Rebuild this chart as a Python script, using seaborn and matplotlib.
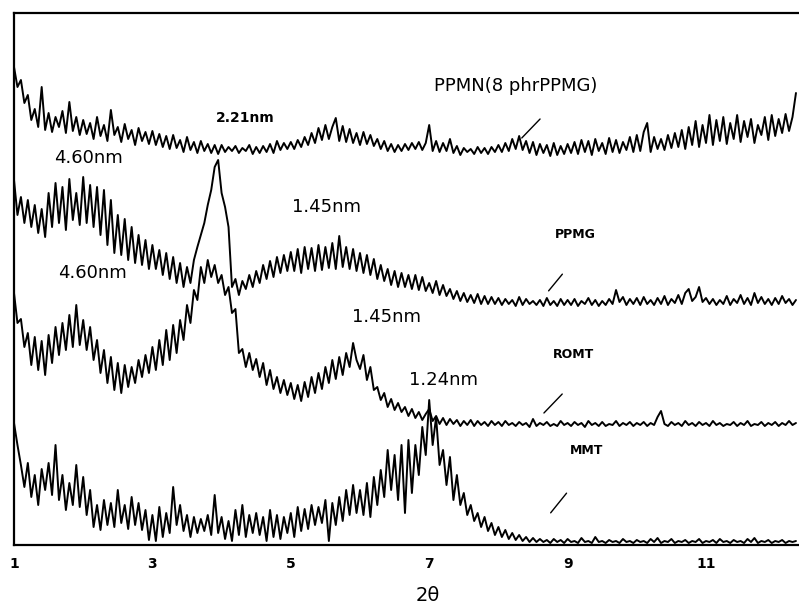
import numpy as np
import pandas as pd
import matplotlib
matplotlib.use("Agg")
import matplotlib.pyplot as plt
import seaborn as sns

# 2-theta sampling (1.00 .. 12.30, step 0.05)
theta = np.round(np.linspace(1.0, 12.3, 227), 2)

ppmn = [
    478, 458, 465, 442, 450, 425, 436, 418, 458, 415, 432, 413, 428, 418, 434, 412, 443, 414, 428, 410,
    425, 411, 422, 406, 428, 409, 420, 404, 435, 410, 418, 403, 421, 406, 415, 400, 417, 404, 413, 401,
    414, 400, 411, 398, 409, 396, 410, 397, 405, 393, 408, 395, 403, 392, 404, 394, 401, 392, 400, 391,
    400, 393, 398, 394, 399, 392, 397, 394, 400, 391, 398, 392, 399, 393, 401, 392, 404, 395, 402, 396,
    403, 396, 405, 398, 408, 400, 412, 402, 417, 405, 420, 406, 418, 427, 404, 419, 403, 416, 402, 412,
    400, 413, 401, 410, 399, 406, 396, 404, 394, 401, 393, 400, 394, 401, 395, 402, 396, 403, 395, 402,
    420, 394, 404, 393, 402, 394, 406, 392, 399, 390, 397, 393, 396, 391, 398, 392, 397, 391, 398, 393,
    400, 393, 402, 394, 406, 396, 409, 395, 404, 392, 403, 390, 401, 392, 400, 389, 402, 390, 399, 391,
    401, 392, 403, 391, 405, 393, 404, 390, 406, 394, 402, 391, 407, 393, 405, 392, 403, 395, 408, 393,
    410, 394, 413, 422, 393, 408, 396, 406, 395, 410, 397, 412, 398, 415, 396, 418, 400, 424, 398, 420,
    402, 430, 400, 425, 404, 428, 401, 422, 406, 430, 403, 424, 408, 426, 402, 420, 410, 428, 405, 430,
    409, 426, 412, 431, 414, 428, 452,
]

ppmg = [
    365, 330, 348, 322, 345, 318, 340, 312, 336, 308, 352, 318, 362, 322, 358, 315, 366, 325, 352, 320,
    368, 322, 360, 318, 358, 310, 355, 300, 345, 292, 330, 290, 326, 285, 318, 282, 310, 280, 305, 276,
    300, 276, 295, 270, 292, 266, 288, 262, 282, 258, 278, 262, 285, 298, 310, 322, 340, 355, 378, 385,
    352, 338, 318, 258, 266, 250, 264, 256, 270, 258, 274, 262, 280, 266, 284, 268, 288, 272, 290, 274,
    293, 274, 296, 272, 298, 276, 297, 274, 300, 275, 298, 277, 302, 276, 309, 278, 298, 276, 296, 274,
    292, 272, 290, 270, 286, 266, 280, 264, 276, 260, 274, 258, 272, 258, 270, 256, 270, 255, 268, 254,
    262, 252, 264, 250, 260, 249, 256, 246, 254, 244, 252, 243, 250, 242, 251, 241, 249, 241, 248, 241,
    247, 240, 246, 241, 245, 239, 248, 240, 246, 241, 244, 240, 245, 239, 247, 240, 244, 239, 246, 240,
    245, 240, 246, 239, 244, 241, 247, 240, 245, 239, 244, 240, 246, 241, 255, 243, 248, 240, 246, 241,
    247, 240, 248, 241, 245, 240, 247, 241, 249, 240, 246, 242, 250, 241, 252, 256, 244, 248, 258, 243,
    247, 241, 246, 240, 245, 241, 249, 240, 246, 242, 250, 241, 247, 240, 252, 242, 248, 241, 246, 240,
    247, 241, 249, 242, 246, 240, 245,
]

romt = [
    252, 222, 226, 198, 212, 180, 208, 175, 204, 170, 210, 182, 218, 190, 222, 195, 230, 198, 240, 200,
    225, 195, 218, 185, 205, 172, 195, 162, 188, 155, 182, 152, 180, 158, 178, 162, 185, 168, 190, 172,
    198, 175, 205, 180, 215, 185, 220, 192, 225, 205, 240, 222, 255, 245, 278, 262, 285, 268, 280, 262,
    270, 250, 258, 232, 236, 192, 196, 178, 192, 175, 186, 168, 182, 160, 175, 156, 168, 152, 165, 150,
    162, 146, 160, 144, 163, 148, 168, 152, 172, 156, 178, 162, 185, 166, 188, 170, 192, 178, 202, 185,
    176, 190, 165, 178, 155, 158, 145, 152, 138, 146, 135, 142, 133, 138, 129, 136, 127, 133, 125, 131,
    136, 124, 129, 121, 127, 120, 126, 121, 125, 119, 124, 120, 125, 119, 124, 120, 123, 119, 124, 120,
    123, 119, 124, 120, 122, 119, 123, 120, 122, 118, 126, 119, 122, 120, 123, 119, 121, 119, 124, 120,
    122, 119, 123, 120, 122, 118, 124, 120, 122, 119, 123, 119, 121, 120, 124, 119, 122, 120, 123, 119,
    122, 120, 123, 119, 122, 120, 128, 134, 121, 119, 123, 120, 122, 119, 124, 120, 122, 119, 123, 120,
    122, 119, 124, 120, 122, 119, 121, 120, 123, 119, 122, 120, 124, 119, 121, 120, 123, 119, 122, 120,
    123, 119, 122, 120, 124, 120, 122,
]

mmt = [
    122, 100, 80, 58, 82, 48, 70, 40, 76, 55, 82, 50, 100, 45, 70, 35, 62, 40, 80, 38,
    68, 30, 55, 18, 40, 15, 45, 20, 42, 18, 55, 22, 40, 16, 48, 20, 42, 15, 35, 5,
    30, 4, 38, 8, 32, 12, 58, 20, 40, 14, 30, 8, 28, 12, 26, 14, 30, 10, 50, 12,
    28, 6, 24, 4, 35, 10, 40, 8, 30, 12, 32, 10, 28, 4, 35, 8, 30, 6, 28, 12,
    32, 8, 38, 14, 36, 16, 40, 20, 38, 22, 45, 4, 42, 20, 48, 24, 55, 30, 60, 32,
    55, 30, 62, 28, 68, 40, 75, 48, 95, 55, 90, 45, 100, 32, 105, 52, 100, 70, 118, 90,
    145, 100, 128, 80, 95, 60, 88, 45, 70, 40, 52, 30, 40, 24, 32, 18, 28, 14, 22, 10,
    18, 8, 15, 6, 12, 5, 10, 4, 8, 3, 7, 3, 6, 3, 5, 2, 6, 3, 5, 2,
    6, 3, 4, 2, 7, 3, 4, 2, 8, 3, 4, 2, 5, 3, 4, 2, 6, 3, 4, 2,
    5, 3, 4, 2, 6, 3, 7, 2, 4, 3, 6, 2, 4, 3, 5, 2, 4, 3, 6, 2,
    4, 3, 5, 2, 6, 3, 4, 2, 5, 3, 4, 2, 6, 3, 7, 2, 4, 3, 5, 2,
    4, 3, 5, 2, 4, 3, 4,
]

series_names = ["PPMN(8 phrPPMG)", "PPMG", "ROMT", "MMT"]
tick_values = [1, 3, 5, 7, 9, 11]
tick_labels = ["1", "3", "5", "7", "9", "11"]

frames = []
for name, vals in zip(series_names, [ppmn, ppmg, romt, mmt]):
    frames.append(pd.DataFrame({"theta": theta, "intensity": vals, "sample": name}))
df = pd.concat(frames, ignore_index=True)

sns.set_style("white")
plt.rcParams["font.family"] = ["DejaVu Sans"]
plt.rcParams["text.color"] = "black"
plt.rcParams["xtick.color"] = "black"
plt.rcParams["axes.labelcolor"] = "black"

fig = plt.figure(figsize=(7.99, 6.14), dpi=100)
ax = fig.add_axes([14 / 799, 69 / 614, 785 / 799, 532 / 614])

sns.lineplot(data=df, x="theta", y="intensity", hue="sample", units="sample",
             estimator=None, sort=False, palette=["black"] * 4, linewidth=1.4,
             legend=False, ax=ax)

ax.set_xlim(1.0, 1 + 785 / 69.2)
ax.set_ylim(0, 532)
ax.set_yticks([])
ax.set_xticks(tick_values)
ax.set_xticklabels(tick_labels, fontsize=10, fontweight="bold", color="black")
ax.tick_params(axis="x", length=0, pad=9)
ax.set_ylabel("")
ax.set_xlabel("2θ", fontsize=14, color="black")
ax.xaxis.set_label_coords((428 - 14) / 785, -41 / 532)

for side in ["left", "top", "bottom"]:
    ax.spines[side].set_visible(True)
    ax.spines[side].set_color("black")
    ax.spines[side].set_linewidth(1.6)
ax.spines["right"].set_visible(False)

# labels
txt = dict(ha="center", va="center", color="black")
ax.text(8.25, 459, "PPMN(8 phrPPMG)", fontsize=13, **txt)
ax.text(4.34, 427, "2.21nm", fontsize=10, fontweight="bold", **txt)
ax.text(2.07, 387, "4.60nm", fontsize=13, **txt)
ax.text(2.13, 272, "4.60nm", fontsize=13, **txt)
ax.text(5.52, 338, "1.45nm", fontsize=13, **txt)
ax.text(6.39, 228, "1.45nm", fontsize=13, **txt)
ax.text(7.20, 165, "1.24nm", fontsize=13, **txt)
ax.text(9.11, 310, "PPMG", fontsize=9, fontweight="bold", **txt)
ax.text(9.09, 190, "ROMT", fontsize=9, fontweight="bold", **txt)
ax.text(9.28, 94, "MMT", fontsize=9, fontweight="bold", **txt)

leaders = [((8.31, 405), (8.63, 428)), ((8.70, 252), (8.95, 273)),
           ((8.63, 130), (8.95, 153)), ((8.73, 30), (9.01, 54))]
for a, b in leaders:
    ax.annotate("", xy=b, xytext=a,
                arrowprops=dict(arrowstyle="-", color="black", lw=1.0))

fig.savefig("out.png", dpi=100)
